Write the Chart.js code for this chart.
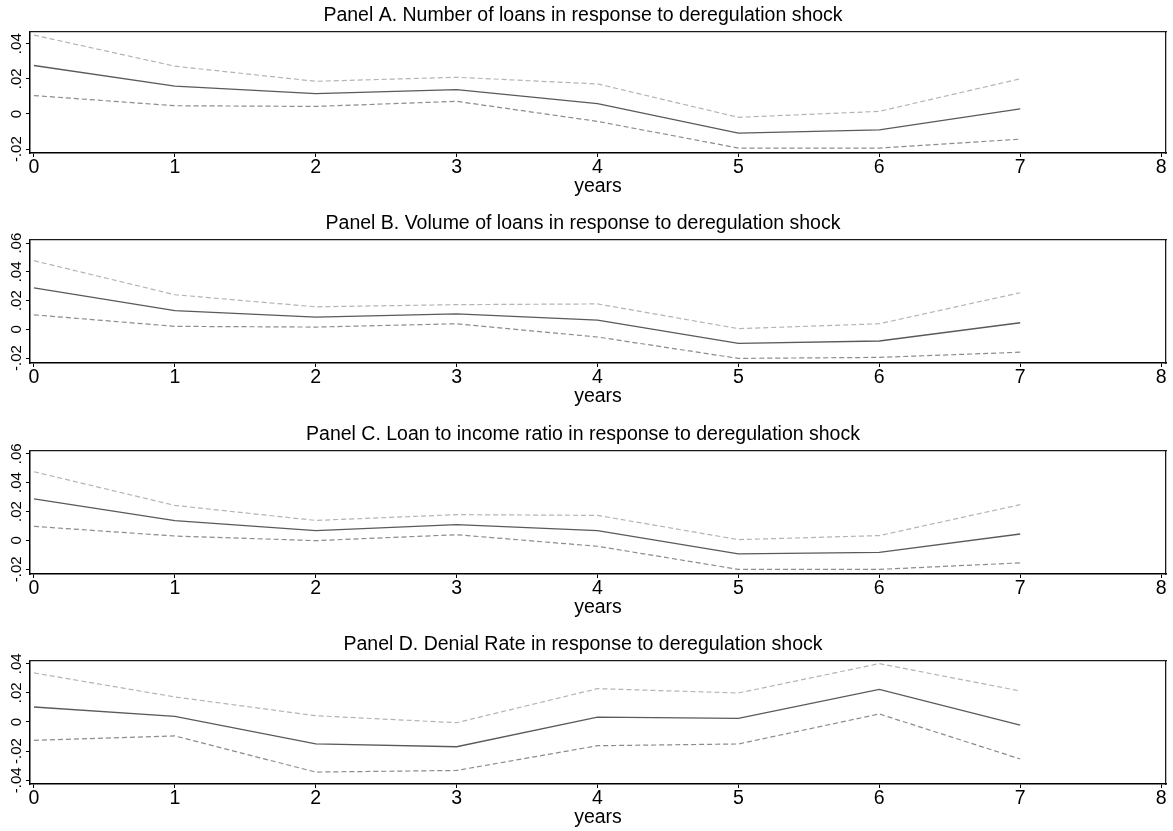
<!DOCTYPE html>
<html>
<head>
<meta charset="utf-8">
<script src="https://cdn.jsdelivr.net/npm/chart.js@4.4.1/dist/chart.umd.min.js"></script>
<style>
  html, body { margin: 0; padding: 0; background: #ffffff; }
  #wrap { position: relative; width: 1173px; height: 831px; background: #ffffff; }
  canvas { position: absolute; left: 0; }
</style>
</head>
<body>
<div id="wrap">
  <canvas id="cA" width="1173" height="208" style="top:0px"></canvas>
  <canvas id="cB" width="1173" height="210" style="top:208px"></canvas>
  <canvas id="cC" width="1173" height="210" style="top:419px"></canvas>
  <canvas id="cD" width="1173" height="210" style="top:629px"></canvas>
</div>
<script>
// ---- data ----
const years = [0, 1, 2, 3, 4, 5, 6, 7];
const xTickValues = [0, 1, 2, 3, 4, 5, 6, 7, 8];
const xAxisLabel = "years";

const titleA = "Panel A. Number of loans in response to deregulation shock";
const estA   = [0.0276, 0.0158, 0.0116, 0.0139, 0.0059, -0.0109, -0.0090, 0.0029];
const upperA = [0.0449, 0.0272, 0.0186, 0.0209, 0.0171, -0.0019, 0.0015, 0.0200];
const lowerA = [0.0105, 0.0047, 0.0043, 0.0072, -0.0042, -0.0194, -0.0194, -0.0143];
const yTicksA = [-0.02, 0, 0.02, 0.04];
const yRangeA = [-0.0222, 0.047];

const titleB = "Panel B. Volume of loans in response to deregulation shock";
const estB   = [0.0288, 0.0131, 0.0085, 0.0108, 0.0064, -0.0097, -0.0081, 0.0046];
const upperB = [0.0478, 0.0241, 0.0157, 0.0172, 0.0177, 0.0005, 0.0039, 0.0255];
const lowerB = [0.0101, 0.0021, 0.0016, 0.0039, -0.0053, -0.0202, -0.0195, -0.0159];
const yTicksB = [-0.02, 0, 0.02, 0.04, 0.06];
const yRangeB = [-0.0234, 0.0626];

const titleC = "Panel C. Loan to income ratio in response to deregulation shock";
const estC   = [0.0287, 0.0136, 0.0067, 0.0109, 0.0067, -0.0094, -0.0083, 0.0044];
const upperC = [0.0475, 0.0242, 0.0138, 0.0178, 0.0173, 0.0005, 0.0033, 0.0247];
const lowerC = [0.0097, 0.0030, -0.0002, 0.0039, -0.0041, -0.0201, -0.0201, -0.0156];
const yTicksC = [-0.02, 0, 0.02, 0.04, 0.06];
const yRangeC = [-0.0233, 0.0623];

const titleD = "Panel D. Denial Rate in response to deregulation shock";
const estD   = [0.0103, 0.0038, -0.0151, -0.0170, 0.0034, 0.0025, 0.0224, -0.0021];
const upperD = [0.0337, 0.0172, 0.0043, -0.0005, 0.0229, 0.0199, 0.0401, 0.0213];
const lowerD = [-0.0126, -0.0096, -0.0344, -0.0333, -0.0163, -0.0151, 0.0055, -0.0254];
const yTicksD = [-0.04, -0.02, 0, 0.02, 0.04];
const yRangeD = [-0.0426, 0.0423];

// ---- styling ----
const FONT = "'Liberation Sans', Arial, Helvetica, sans-serif";
const AXIS_COLOR = "#000000";

function fmtTick(v) {
  if (Math.abs(v) < 1e-12) return "0";
  const s = Math.abs(v).toFixed(2).replace(/^0/, "");
  return (v < 0 ? "-" : "") + s;
}

function pts(xs, ys) { return xs.map((x, i) => ({ x: x, y: ys[i] })); }

function makePanel(id, title, est, upper, lower, yTicks, yRange) {
  const ctx = document.getElementById(id);
  return new Chart(ctx, {
    type: 'line',
    data: {
      datasets: [
        { label: 'upper', data: pts(years, upper), borderColor: '#b4b4b4', borderWidth: 1.2,
          borderDash: [5, 3], pointRadius: 0, tension: 0, fill: false },
        { label: 'estimate', data: pts(years, est), borderColor: '#5a5a5a', borderWidth: 1.3,
          pointRadius: 0, tension: 0, fill: false },
        { label: 'lower', data: pts(years, lower), borderColor: '#8c8c8c', borderWidth: 1.2,
          borderDash: [5, 3], pointRadius: 0, tension: 0, fill: false }
      ]
    },
    options: {
      responsive: false,
      animation: false,
      devicePixelRatio: 1,
      layout: { padding: { left: 0, right: 7, top: 0, bottom: 0 } },
      plugins: {
        legend: { display: false },
        tooltip: { enabled: false },
        title: {
          display: true, text: title, color: '#000000',
          font: { family: FONT, size: 19.5, weight: 'normal' },
          padding: { top: 4, bottom: 4 }
        }
      },
      scales: {
        x: {
          type: 'linear', position: 'bottom',
          min: -0.028, max: 8.035,
          afterBuildTicks: (s) => { s.ticks = xTickValues.map(v => ({ value: v })); },
          afterFit: (s) => { s.height = 55; },
          grid: { display: true, drawOnChartArea: false, drawTicks: true, tickLength: 4, color: AXIS_COLOR, lineWidth: 1 },
          border: { display: true, color: AXIS_COLOR, width: 1.5 },
          ticks: { color: '#000000', padding: -1, maxRotation: 0, minRotation: 0, autoSkip: false,
                   font: { family: FONT, size: 19.5 },
                   callback: (v) => String(v) },
          title: { display: true, text: xAxisLabel, color: '#000000',
                   font: { family: FONT, size: 19.5 }, padding: { top: 0, bottom: 10 } }
        },
        y: {
          type: 'linear', position: 'left',
          min: yRange[0], max: yRange[1],
          afterBuildTicks: (s) => { s.ticks = yTicks.map(v => ({ value: v })); },
          afterFit: (s) => { s.width = 30; },
          grid: { display: true, drawOnChartArea: false, drawTicks: true, tickLength: 4, color: AXIS_COLOR, lineWidth: 1 },
          border: { display: true, color: AXIS_COLOR, width: 1.5 },
          ticks: { color: '#000000', padding: -4, minRotation: 90, maxRotation: 90, crossAlign: 'center',
                   autoSkip: false, font: { family: FONT, size: 15 },
                   callback: (v) => fmtTick(v) }
        },
        xTop: {
          type: 'linear', position: 'top', min: 0, max: 1,
          afterFit: (s) => { s.height = 0; },
          grid: { display: false }, ticks: { display: false },
          border: { display: true, color: '#1a1a1a', width: 1.3 }
        },
        yRight: {
          type: 'linear', position: 'right', min: 0, max: 1,
          afterFit: (s) => { s.width = 0; },
          grid: { display: false }, ticks: { display: false },
          border: { display: true, color: '#1a1a1a', width: 1.3 }
        }
      }
    }
  });
}

makePanel('cA', titleA, estA, upperA, lowerA, yTicksA, yRangeA);
makePanel('cB', titleB, estB, upperB, lowerB, yTicksB, yRangeB);
makePanel('cC', titleC, estC, upperC, lowerC, yTicksC, yRangeC);
makePanel('cD', titleD, estD, upperD, lowerD, yTicksD, yRangeD);
</script>
</body>
</html>
